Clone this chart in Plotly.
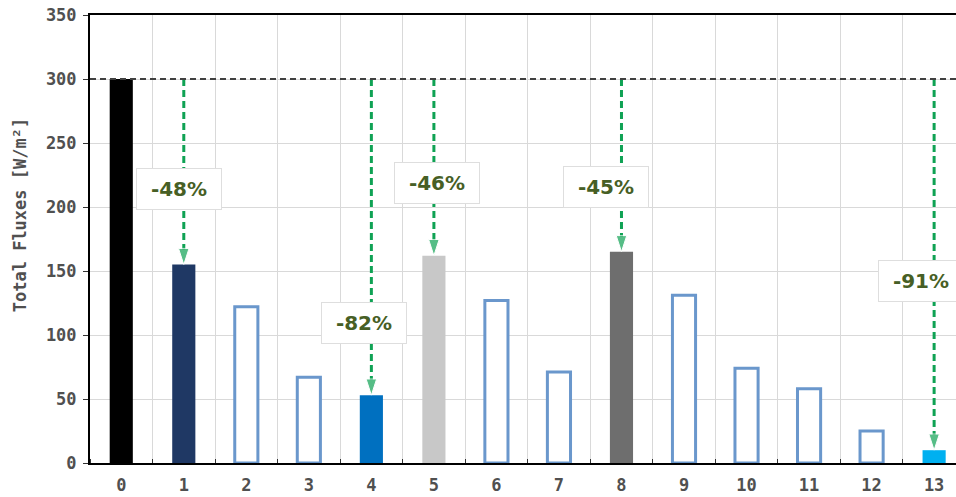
import plotly.graph_objects as go

# ---- data ----
categories = [0, 1, 2, 3, 4, 5, 6, 7, 8, 9, 10, 11, 12, 13]
values = [300, 155, 122, 67, 53, 162, 127, 71, 165, 131, 74, 58, 25, 10]
tick_labels = ["0", "1", "2", "3", "4", "5", "6", "7", "8", "9", "10", "11", "12", "13"]
baseline = 300
arrow_idx = [1, 4, 5, 8, 13]
arrow_labels = ["-48%", "-82%", "-46%", "-45%", "-91%"]
y_title = "Total Fluxes [W/m²]"

# ---- styles / layout ----
HOLLOW = "white"
fill_colors = ["#000000", "#1f3864", HOLLOW, HOLLOW, "#0070c0", "#c8c8c8", HOLLOW,
               HOLLOW, "#6e6e6e", HOLLOW, HOLLOW, HOLLOW, HOLLOW, "#00b0f0"]
edge_colors = ["#000000", "#1f3864", "#6a97cc", "#6a97cc", "#0070c0", "#c8c8c8", "#6a97cc",
               "#6a97cc", "#6e6e6e", "#6a97cc", "#6a97cc", "#6a97cc", "#6a97cc", "#00b0f0"]
edge_widths = [0, 0, 3, 3, 0, 0, 3, 3, 0, 3, 3, 3, 3, 0]
label_x = [0.93, 3.88, 5.05, 7.75, 12.79]
label_y = [214, 109, 219, 216, 142]
GREEN = "#0fa254"
LABEL_COLOR = "#475f25"
TICK_FONT = dict(family="DejaVu Sans Mono", size=17, color="#505050", weight="bold")

fig = go.Figure()
fig.add_trace(go.Bar(
    x=categories, y=values, width=0.37,
    marker=dict(color=fill_colors, line=dict(color=edge_colors, width=edge_widths)),
    showlegend=False, hoverinfo="x+y",
))

for i in arrow_idx:
    fig.add_trace(go.Scatter(
        x=[categories[i], categories[i]], y=[baseline, values[i]],
        mode="lines+markers",
        line=dict(color=GREEN, width=3, dash="7px,4px"),
        marker=dict(symbol="arrow", size=[0, 17], angleref="previous", color=GREEN),
        showlegend=False, hoverinfo="skip",
    ))

fig.add_shape(type="line", xref="paper", x0=0, x1=1, yref="y", y0=baseline, y1=baseline,
              line=dict(color="#404040", width=2, dash="6px,4px"), layer="above")

for lx, ly, txt in zip(label_x, label_y, arrow_labels):
    fig.add_annotation(x=lx, y=ly, xref="x", yref="y", text=txt, showarrow=False,
                       font=dict(family="DejaVu Sans", size=20, color=LABEL_COLOR, weight="bold"),
                       bgcolor="white", bordercolor="#dedede", borderwidth=1, borderpad=10,
                       width=64, height=20)

# y-axis title (placed slightly above centre, as in the reference)
fig.add_annotation(x=0, y=0.553, xref="paper", yref="paper", text=y_title, showarrow=False,
                   textangle=-90, xanchor="center", yanchor="middle", xshift=-70,
                   font=dict(family="DejaVu Sans Mono", size=17, color="#505050", weight="bold"))

fig.update_layout(
    width=956, height=497,
    margin=dict(l=90, r=0, t=15, b=34),
    plot_bgcolor="white", paper_bgcolor="white",
    xaxis=dict(
        range=[-0.5, 13.35], tickmode="array", tickvals=categories, ticktext=tick_labels,
        showgrid=False, ticks="", tickfont=TICK_FONT, ticklabelstandoff=6,
        showline=True, linecolor="black", linewidth=2, mirror=True, zeroline=False,
        minor=dict(tickmode="linear", tick0=0.5, dtick=1, showgrid=True, gridcolor="#d9d9d9",
                   gridwidth=1, ticks="inside", ticklen=4, tickcolor="#333333"),
    ),
    yaxis=dict(
        range=[0, 350], tickmode="linear", tick0=0, dtick=50,
        showgrid=True, gridcolor="#d9d9d9", gridwidth=1,
        ticks="outside", ticklen=5, tickcolor="#333333", tickfont=TICK_FONT,
        ticklabelstandoff=3,
        showline=True, linecolor="black", linewidth=2, mirror=False, zeroline=False,
    ),
)

fig.write_html("out.html", config={"displayModeBar": False},
               post_script="document.body.style.margin='0';document.body.style.overflow='hidden';")
